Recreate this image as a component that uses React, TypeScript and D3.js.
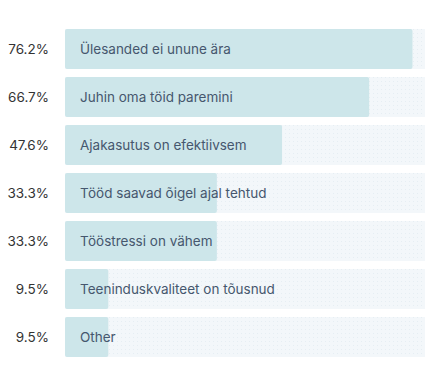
import React from "react";
import * as d3 from "d3";

const categories = [
  "Ülesanded ei unune ära",
  "Juhin oma töid paremini",
  "Ajakasutus on efektiivsem",
  "Tööd saavad õigel ajal tehtud",
  "Tööstressi on vähem",
  "Teeninduskvaliteet on tõusnud",
  "Other",
];
const values = [76.2, 66.7, 47.6, 33.3, 33.3, 9.5, 9.5];

const W = 425;
const H = 376;

export default function App() {
  const x = d3.scaleLinear().domain([0, 100]).range([65, 521]);
  const y = d3
    .scaleBand<string>()
    .domain(categories)
    .range([25, 361])
    .paddingInner(8 / 48)
    .paddingOuter(4 / 48);
  return (
    <svg width={W} height={H} style={{ position: "absolute", left: 0, top: 0, display: "block" }}>
      <defs>
        <pattern id="dots" width="4" height="4" patternUnits="userSpaceOnUse">
          <rect width="4" height="4" fill="#f3f7fa" />
          <rect x="1" y="1" width="1" height="1" fill="#e6eef3" />
        </pattern>
      </defs>
      <rect width={W} height={H} fill="#ffffff" />
      {categories.map((c, i) => {
        const yy = y(c)!;
        const bh = y.bandwidth();
        return (
          <g key={c}>
            <rect x={x(0)} y={yy} width={x(100) - x(0)} height={bh} rx={2} fill="url(#dots)" />
            <rect x={x(0)} y={yy} width={x(values[i]) - x(0)} height={bh} rx={2} fill="#cde6ea" />
            <text
              x={49}
              y={yy + bh / 2}
              dy="0.35em"
              textAnchor="end"
              fontFamily="Inter"
              fontSize={13.5}
              fill="#333333"
            >
              {values[i].toFixed(1)}%
            </text>
            <text x={80} y={yy + bh / 2} dy="0.35em" fontFamily="Inter" fontSize={13.5} fill="#46576e">
              {c}
            </text>
          </g>
        );
      })}
    </svg>
  );
}
